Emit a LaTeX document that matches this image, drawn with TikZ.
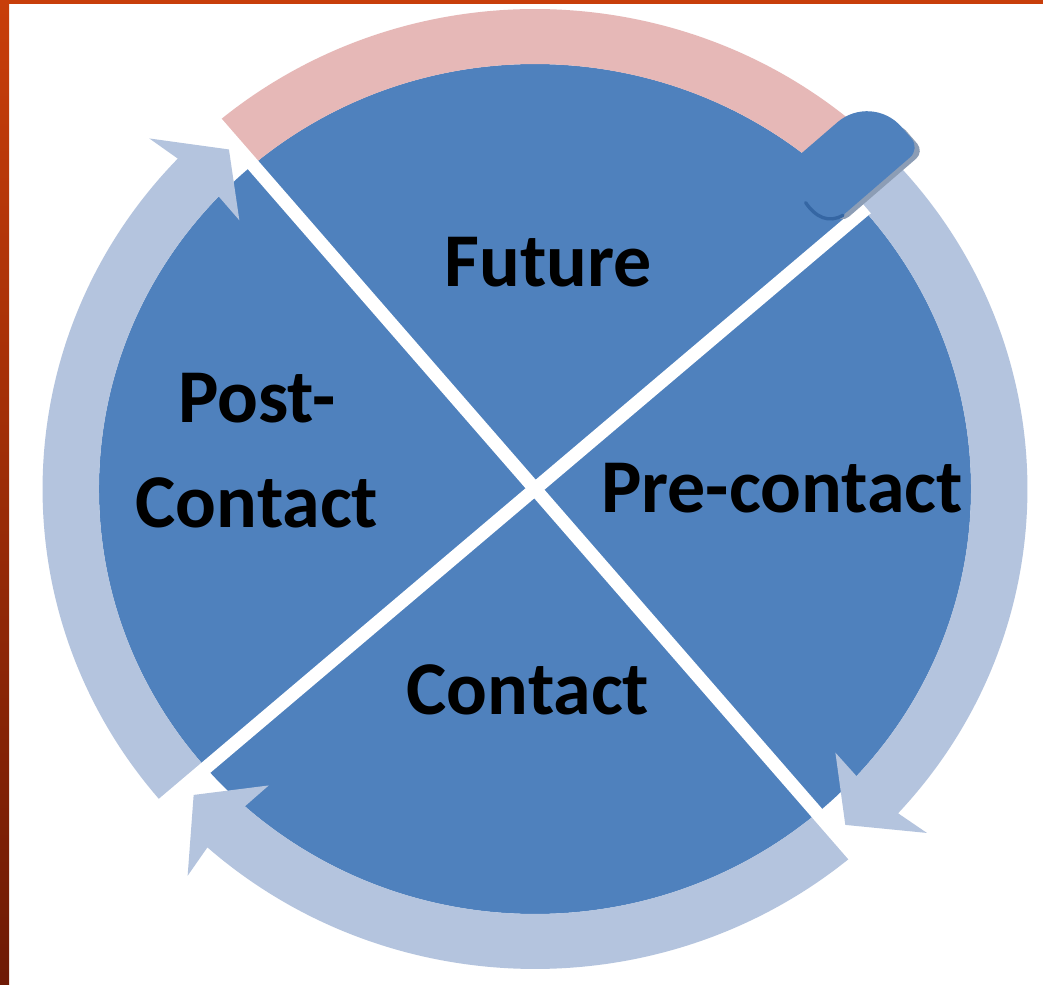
\documentclass[tikz,border=0pt]{standalone}
\usepackage{fontspec}
\setmainfont{Carlito}
\definecolor{diskblue}{HTML}{4F81BD}
\definecolor{ringblue}{HTML}{B4C4DE}
\definecolor{ringpink}{HTML}{E6B8B7}
\definecolor{tabshadow}{HTML}{8C9DB5}
\definecolor{curlblue}{HTML}{3566A3}
\definecolor{frametop}{HTML}{C83E0A}
\definecolor{framebot}{HTML}{6E1A05}
\newcommand\ringarrow[3]{%
  \fill[ringblue] (#1:480) arc[start angle=#1, end angle=#2, radius=480]
    -- ({#2+0.5}:514) -- (#3:452) -- ({#2+0.5}:394) -- (#2:425)
    arc[start angle=#2, end angle=#1, radius=425] -- cycle;}
\tikzset{
  lbl/.style={font=\fontsize{57}{68}\selectfont\bfseries, text=black, inner sep=0pt, anchor=base},
  divider/.style={white, line width=10pt}
}
\begin{document}
\begin{tikzpicture}[x=0.75pt,y=-0.75pt]
\useasboundingbox (0,0) rectangle (1043,985);
\fill[white] (0,0) rectangle (1043,985);
% frame strips
\shade[top color=frametop, bottom color=framebot] (0,0) rectangle (9,985);
\fill[frametop] (0,0) rectangle (1043,4);
% disk and ring
\begin{scope}[shift={(535,489)}, xscale=1.026, yscale=-1]
  \fill[diskblue] (0,0) circle[radius=425];
  \fill[ringpink] (130.3:480) arc[start angle=130.3, end angle=42, radius=480]
    -- (42:425) arc[start angle=42, end angle=130.3, radius=425] -- cycle;
  \ringarrow{42}{-42.5}{-48}
  \ringarrow{-49.7}{-131.7}{-137.4}
  \ringarrow{-139}{-223.5}{-228.7}
  \coordinate (aUL) at (130.3:490);
  \coordinate (aLR) at (-49.7:490);
  \coordinate (bLL) at (221:490);
  \coordinate (bUR) at (41:428);
  \coordinate (ctr) at (0,0);
  \draw[divider] (aUL) -- (aLR);
  \draw[divider] (bLL) -- (ctr) -- (bUR);
\end{scope}
% peeled tab
\begin{scope}[shift={(535,489)}, rotate=40.8]
  \fill[tabshadow, rounded corners=8] (405,-1) -- (515,-1) -- (515,-40) -- (405,-40) -- cycle;
  \fill[diskblue] (380,-6) [rounded corners=10] -- (514,-6) [rounded corners=34] -- (514,-80) [sharp corners] -- (380,-80) -- cycle;
  \draw[curlblue, line width=2.5pt, line cap=round] (392,-40) .. controls (390,-22) and (396,-9) .. (412,-6);
\end{scope}
% labels
\node[lbl] (future) at (548,286) {Future};
\node[lbl] (pre) at (782,512) {Pre-contact};
\node[lbl] (contact) at (528,714) {Contact};
\node[lbl] (post1) at (257,422) {Post-};
\node[lbl] (post2) at (257,527) {Contact};
\end{tikzpicture}
\end{document}
